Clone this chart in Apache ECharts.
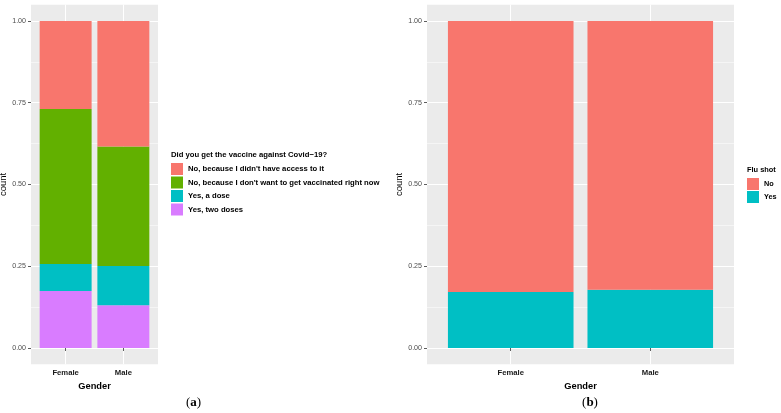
<!DOCTYPE html>
<html><head><meta charset="utf-8">
<script src="https://cdn.jsdelivr.net/npm/echarts@6/dist/echarts.min.js"></script>
<style>html,body{margin:0;padding:0;background:#fff}#c{width:781px;height:413px}</style>
</head><body><div id="c"></div>
<script>
// ---- data ----
const genders = ['Female', 'Male'];
const vaccineTitle = 'Did you get the vaccine against Covid\u221219?';
const vaccineLevels = [
  "No, because I didn't have access to it",
  "No, because I don't want to get vaccinated right now",
  'Yes, a dose',
  'Yes, two doses'
];
const vacNoAccess = [0.269, 0.384];
const vacNoWant   = [0.474, 0.365];
const vacOneDose  = [0.083, 0.120];
const vacTwoDoses = [0.174, 0.131];

const fluTitle = 'Flu shot';
const fluLevels = ['No', 'Yes'];
const fluNo  = [0.829, 0.822];
const fluYes = [0.171, 0.178];

const yTicks = [0, 0.25, 0.5, 0.75, 1];
const yMinor = [0.125, 0.375, 0.625, 0.875];

// ---- style ----
const FONT = 'Liberation Sans, Arial, Helvetica, sans-serif';
const vacColors = ['#F8766D', '#62B000', '#00BFC4', '#D97CFF'];
const fluColors = ['#F8766D', '#00BFC4'];
const PANEL = '#EBEBEB';

const TOP = 4.65, H = 359.7;
const gL = {left: 31, width: 127};
const gR = {left: 427, width: 307};

function xAx(gi) {
  return {
    type: 'value', gridIndex: gi, min: 0.4, max: 2.6,
    axisLine: {show: false},
    axisTick: {customValues: [1, 2], length: 3, lineStyle: {color: '#333', width: 0.8}},
    axisLabel: {customValues: [1, 2], formatter: v => genders[Math.round(v) - 1],
      fontSize: 7.7, fontWeight: 'bold', color: '#1a1a1a', margin: 4.5, fontFamily: FONT},
    splitLine: {show: true, lineStyle: {color: '#fff', width: 1}},
    name: 'Gender', nameLocation: 'middle', nameGap: 13,
    nameTextStyle: {fontSize: 9.3, fontWeight: 'bold', color: '#000', fontFamily: FONT, verticalAlign: 'top'}
  };
}
function yMaj(gi) {
  return {
    type: 'value', gridIndex: gi, min: -0.05, max: 1.05,
    axisLine: {show: false},
    axisTick: {customValues: yTicks, length: 3, lineStyle: {color: '#333', width: 0.8}},
    axisLabel: {customValues: yTicks, formatter: v => v.toFixed(2), fontSize: 7.1,
      color: '#4D4D4D', margin: 5, fontFamily: FONT},
    splitLine: {show: true, lineStyle: {color: '#fff', width: 1}},
    name: 'count', nameLocation: 'middle', nameGap: 21, nameRotate: 90,
    nameTextStyle: {fontSize: 9.5, color: '#000', fontFamily: FONT}
  };
}
function yMin(gi) {
  return {
    type: 'value', gridIndex: gi, min: -0.05, max: 1.05, position: 'left',
    axisLine: {show: false},
    axisTick: {show: false, customValues: yMinor},
    axisLabel: {show: false},
    splitLine: {show: true, lineStyle: {color: '#fff', width: 0.5}}
  };
}
// value first (stacked dimension), category position second
const pts = arr => arr.map((v, i) => [v, i + 1]);
const bwL = gL.width / 2.2 * 0.9, bwR = gR.width / 2.2 * 0.9;

function bar(name, arr, color, xi, yi, stack, bw) {
  return {type: 'bar', name, data: pts(arr), encode: {x: 1, y: 0},
    xAxisIndex: xi, yAxisIndex: yi, stack,
    barWidth: bw, itemStyle: {color}, emphasis: {disabled: true}, silent: true};
}

const chart = echarts.init(document.getElementById('c'), null, {renderer: 'canvas'});
chart.setOption({
  animation: false,
  grid: [
    {left: gL.left, top: TOP, width: gL.width, height: H, show: true, backgroundColor: PANEL, borderWidth: 0,
      containLabel: false, outerBoundsMode: 'none'},
    {left: gR.left, top: TOP, width: gR.width, height: H, show: true, backgroundColor: PANEL, borderWidth: 0,
      containLabel: false, outerBoundsMode: 'none'}
  ],
  xAxis: [xAx(0), xAx(1)],
  yAxis: [yMaj(0), yMin(0), yMaj(1), yMin(1)],
  legend: [
    {data: vaccineLevels, orient: 'vertical', left: 171, top: 163, padding: 0,
      itemWidth: 12, itemHeight: 12, itemGap: 1.5, icon: 'rect', selectedMode: false,
      textStyle: {fontSize: 7.7, fontWeight: 'bold', color: '#000', fontFamily: FONT}},
    {data: fluLevels, orient: 'vertical', left: 747, top: 178, padding: 0,
      itemWidth: 12, itemHeight: 12, itemGap: 1, icon: 'rect', selectedMode: false,
      textStyle: {fontSize: 7.3, fontWeight: 'bold', color: '#000', fontFamily: FONT}}
  ],
  graphic: [
    {type: 'text', left: 171, top: 150.5, style: {text: vaccineTitle, font: 'bold 7.7px ' + FONT, fill: '#000'}},
    {type: 'text', left: 747, top: 166, style: {text: fluTitle, font: 'bold 7.4px ' + FONT, fill: '#000'}},
    {type: 'text', x: 193.5, y: 403, style: {text: '{p|(}{b|a}{p|)}', align: 'center', verticalAlign: 'middle',
      rich: {p: {font: '13px Liberation Serif, serif', fill: '#000'}, b: {font: 'bold 13px Liberation Serif, serif', fill: '#000'}}}},
    {type: 'text', x: 590, y: 403, style: {text: '{p|(}{b|b}{p|)}', align: 'center', verticalAlign: 'middle',
      rich: {p: {font: '13px Liberation Serif, serif', fill: '#000'}, b: {font: 'bold 13px Liberation Serif, serif', fill: '#000'}}}}
  ],
  series: [
    bar(vaccineLevels[3], vacTwoDoses, vacColors[3], 0, 0, 'vac', bwL),
    bar(vaccineLevels[2], vacOneDose, vacColors[2], 0, 0, 'vac', bwL),
    bar(vaccineLevels[1], vacNoWant, vacColors[1], 0, 0, 'vac', bwL),
    bar(vaccineLevels[0], vacNoAccess, vacColors[0], 0, 0, 'vac', bwL),
    bar(fluLevels[1], fluYes, fluColors[1], 1, 2, 'flu', bwR),
    bar(fluLevels[0], fluNo, fluColors[0], 1, 2, 'flu', bwR)
  ]
});
</script></body></html>
